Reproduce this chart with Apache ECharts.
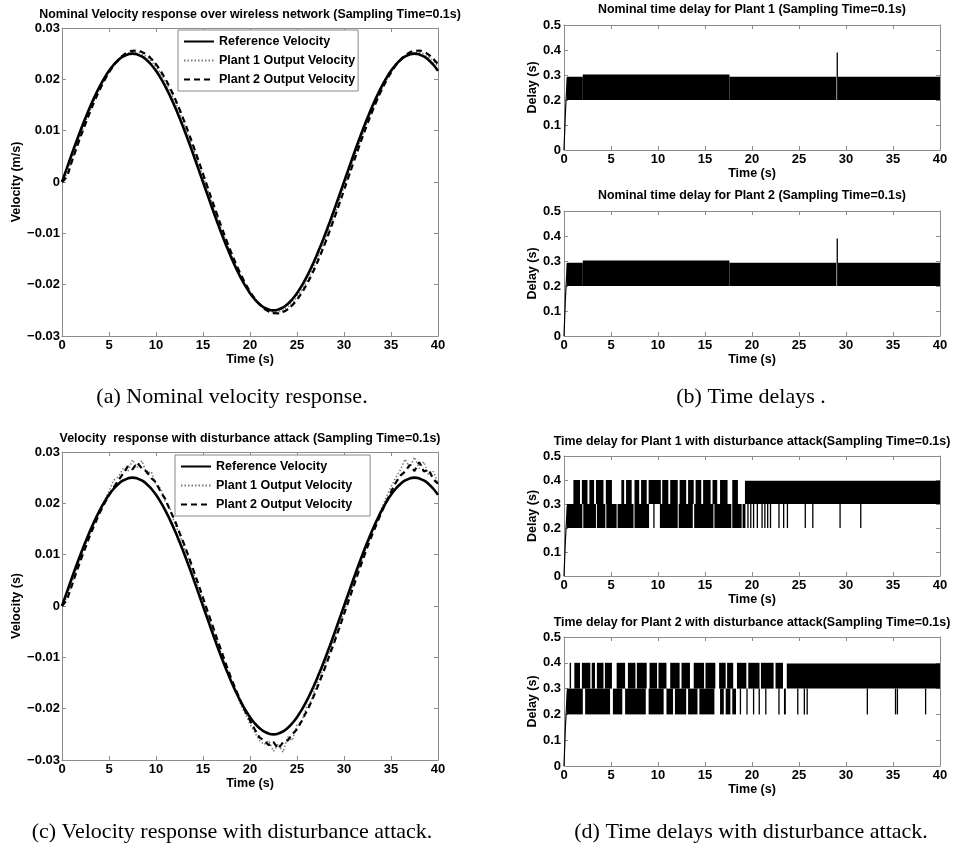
<!DOCTYPE html>
<html>
<head>
<meta charset="utf-8">
<script src="https://cdn.jsdelivr.net/npm/echarts@6/dist/echarts.min.js"></script>
<style>
html,body{margin:0;padding:0;background:#fff;}
#chart{width:956px;height:844px;}
</style>
</head>
<body>
<div id="chart"></div>
<script>
// ---------- velocity data (time in s, velocity in m/s) ----------
const timeHalf = [0,0.5,1,1.5,2,2.5,3,3.5,4,4.5,5,5.5,6,6.5,7,7.5,8,8.5,9,9.5,10,10.5,11,11.5,12,12.5,13,13.5,14,14.5,15,15.5,16,16.5,17,17.5,18,18.5,19,19.5,20,20.5,21,21.5,22,22.5,23,23.5,24,24.5,25,25.5,26,26.5,27,27.5,28,28.5,29,29.5,30,30.5,31,31.5,32,32.5,33,33.5,34,34.5,35,35.5,36,36.5,37,37.5,38,38.5,39,39.5,40];
const refVelocity = [0,0.00261,0.00520,0.00773,0.01017,0.0125,0.01469,0.01673,0.01858,0.02023,0.02165,0.02284,0.02378,0.02445,0.02486,0.025,0.02486,0.02445,0.02378,0.02284,0.02165,0.02023,0.01858,0.01673,0.01469,0.0125,0.01017,0.00773,0.00520,0.00261,0,
  -0.00261,-0.00520,-0.00773,-0.01017,-0.0125,-0.01469,-0.01673,-0.01858,-0.02023,-0.02165,-0.02284,-0.02378,-0.02445,-0.02486,-0.025,-0.02486,-0.02445,-0.02378,-0.02284,-0.02165,-0.02023,-0.01858,-0.01673,-0.01469,-0.0125,-0.01017,-0.00773,-0.00520,-0.00261,0,
  0.00261,0.00520,0.00773,0.01017,0.0125,0.01469,0.01673,0.01858,0.02023,0.02165,0.02284,0.02378,0.02445,0.02486,0.025,0.02486,0.02445,0.02378,0.02284,0.02165];
const plant1Nominal = [0,0.00159,0.00422,0.00680,0.00931,0.01172,0.01400,0.01613,0.01808,0.01983,0.02136,0.02266,0.02371,0.02451,0.02503,0.02528,0.02525,0.02495,0.02437,0.02352,0.02242,0.02107,0.01949,0.01770,0.01571,0.01356,0.01125,0.00882,0.00629,0.00370,0.00106,
  -0.00159,-0.00422,-0.00680,-0.00931,-0.01172,-0.01400,-0.01613,-0.01808,-0.01983,-0.02136,-0.02266,-0.02371,-0.02451,-0.02503,-0.02528,-0.02525,-0.02495,-0.02437,-0.02352,-0.02242,-0.02107,-0.01949,-0.01770,-0.01571,-0.01356,-0.01125,-0.00882,-0.00629,-0.00370,-0.00106,
  0.00159,0.00422,0.00680,0.00931,0.01172,0.01400,0.01613,0.01808,0.01983,0.02136,0.02266,0.02371,0.02451,0.02503,0.02528,0.02525,0.02495,0.02437,0.02352,0.02242];
const plant2Nominal = [0,0.00107,0.00374,0.00637,0.00892,0.01138,0.01372,0.01590,0.01791,0.01972,0.02132,0.02269,0.02380,0.02466,0.02524,0.02555,0.02558,0.02533,0.02480,0.02399,0.02293,0.02161,0.02006,0.01829,0.01632,0.01417,0.01186,0.00942,0.00688,0.00427,0.00161,
  -0.00107,-0.00374,-0.00637,-0.00892,-0.01138,-0.01372,-0.01590,-0.01791,-0.01972,-0.02132,-0.02269,-0.02380,-0.02466,-0.02524,-0.02555,-0.02558,-0.02533,-0.02480,-0.02399,-0.02293,-0.02161,-0.02006,-0.01829,-0.01632,-0.01417,-0.01186,-0.00942,-0.00688,-0.00427,-0.00161,
  0.00107,0.00374,0.00637,0.00892,0.01138,0.01372,0.01590,0.01791,0.01972,0.02132,0.02269,0.02380,0.02466,0.02524,0.02555,0.02558,0.02533,0.02480,0.02399,0.02293];
const plant1Attack = [0,0.0016,0.0042,0.0069,0.0094,0.0119,0.0142,0.0165,0.0186,0.0205,0.0224,0.0245,0.0252,0.0268,0.0262,0.0285,0.0270,0.0283,0.0258,0.0262,0.0236,0.0229,0.0203,0.0190,0.0160,0.0140,0.0113,0.0090,0.0063,0.0037,0.0011,-0.0016,-0.0042,-0.0069,-0.0096,-0.0122,-0.0148,-0.0166,-0.0192,-0.0210,-0.0230,-0.0246,-0.0262,-0.0270,-0.0262,-0.0283,-0.0268,-0.0285,-0.0255,-0.0262,-0.0232,-0.0225,-0.0198,-0.0185,-0.0157,-0.0137,-0.0113,-0.0088,-0.0063,-0.0037,-0.0011,0.0016,0.0042,0.0069,0.0094,0.0120,0.0145,0.0168,0.0190,0.0212,0.0232,0.0250,0.0265,0.0286,0.0270,0.0290,0.0268,0.0281,0.0255,0.0262,0.0240];
const plant2Attack = [0,0.0011,0.0037,0.0064,0.0090,0.0114,0.0139,0.0160,0.0181,0.0199,0.0216,0.0231,0.0245,0.0258,0.0272,0.0266,0.0279,0.0268,0.0262,0.0249,0.0241,0.0222,0.0208,0.0186,0.0167,0.0143,0.0120,0.0095,0.0069,0.0043,0.0016,-0.0011,-0.0037,-0.0064,-0.0090,-0.0116,-0.0141,-0.0163,-0.0185,-0.0205,-0.0223,-0.0240,-0.0256,-0.0262,-0.0271,-0.0265,-0.0278,-0.0266,-0.0262,-0.0250,-0.0240,-0.0224,-0.0206,-0.0188,-0.0166,-0.0143,-0.0119,-0.0094,-0.0069,-0.0043,-0.0016,0.0011,0.0037,0.0064,0.0090,0.0115,0.0139,0.0161,0.0183,0.0203,0.0222,0.0240,0.0254,0.0262,0.0275,0.0263,0.0280,0.0262,0.0266,0.0247,0.0238];

// ---------- delay data: [tStart, tEnd, lowDelay, highDelay] (signal toggles between low/high) ----------
const rampDelay = [[0,0],[0.15,0.15],[0.35,0.29]];
const nominalDelayPlant1 = [[0.3,2.0,0.2,0.293],[2.0,17.6,0.2,0.302],[17.6,28.95,0.2,0.293],[29.15,40,0.2,0.293],[29.0,29.0,0.2,0.39]];
const nominalDelayPlant2 = [[0.3,2.0,0.2,0.293],[2.0,17.6,0.2,0.302],[17.6,28.95,0.2,0.293],[29.15,40,0.2,0.293],[29.0,29.0,0.2,0.39]];
const attackDelayPlant1 = [
  [1.0,1.7,0.3,0.4],[1.9,2.5,0.3,0.4],[2.7,3.2,0.3,0.4],[3.4,4.2,0.3,0.4],[4.45,5.1,0.3,0.4],[6.1,6.4,0.3,0.4],[6.6,7.2,0.3,0.4],[7.5,8.0,0.3,0.4],[8.2,8.8,0.3,0.4],[9.0,10.3,0.3,0.4],[10.45,11.1,0.3,0.4],[11.3,12.1,0.3,0.4],[12.3,13.0,0.3,0.4],[13.2,13.8,0.3,0.4],[14.0,14.6,0.3,0.4],[14.8,15.6,0.3,0.4],[15.8,16.3,0.3,0.4],[16.6,17.4,0.3,0.4],[17.9,18.5,0.3,0.4],[19.25,40,0.3,0.397],
  [0.3,1.95,0.2,0.3],[2.05,3.4,0.2,0.3],[3.5,4.4,0.2,0.3],[4.5,5.6,0.2,0.3],[5.7,7.4,0.2,0.3],[7.5,9.05,0.2,0.3],[9.5,9.5,0.2,0.3],[10.2,12.1,0.2,0.3],[12.2,13.7,0.2,0.3],[13.85,15.9,0.2,0.3],[16.0,17.8,0.2,0.3],[17.9,18.9,0.2,0.3],[19.0,19.3,0.2,0.3],
  [19.5,19.5,0.2,0.3],[19.8,19.8,0.2,0.3],[20.1,20.1,0.2,0.3],[20.5,20.5,0.2,0.3],[21.0,21.0,0.2,0.3],[21.3,21.3,0.2,0.3],[21.6,21.6,0.2,0.3],[21.9,21.9,0.2,0.3],[22.8,22.8,0.2,0.3],[23.3,23.3,0.2,0.3],[23.7,23.7,0.2,0.3],[25.6,25.6,0.2,0.3],[26.4,26.4,0.2,0.3],[29.3,29.3,0.2,0.3],[31.5,31.5,0.2,0.3]
];
const attackDelayPlant2 = [
  [0.6,0.75,0.3,0.4],[1.1,1.7,0.3,0.4],[1.9,2.8,0.3,0.4],[2.95,3.3,0.3,0.4],[3.5,4.2,0.3,0.4],[4.35,5.1,0.3,0.4],[5.6,6.5,0.3,0.4],[6.8,7.6,0.3,0.4],[7.75,8.8,0.3,0.4],[9.1,9.9,0.3,0.4],[10.05,10.9,0.3,0.4],[11.3,12.3,0.3,0.4],[12.5,13.4,0.3,0.4],[13.8,14.9,0.3,0.4],[15.05,16.1,0.3,0.4],[16.5,17.2,0.3,0.4],[17.35,18.0,0.3,0.4],[18.4,19.4,0.3,0.4],[19.6,20.8,0.3,0.4],[20.95,22.3,0.3,0.4],[22.5,23.3,0.3,0.4],[23.7,40,0.3,0.397],
  [0.3,2.0,0.2,0.3],[2.25,4.9,0.2,0.3],[5.2,6.2,0.2,0.3],[6.5,8.7,0.2,0.3],[9.0,10.6,0.2,0.3],[10.9,11.6,0.2,0.3],[11.8,13.0,0.2,0.3],[13.2,14.2,0.2,0.3],[14.4,16.0,0.2,0.3],[16.6,17.0,0.2,0.3],[17.2,17.7,0.2,0.3],[17.9,18.3,0.2,0.3],
  [18.7,18.7,0.2,0.3],[19.4,19.4,0.2,0.3],[20.1,20.1,0.2,0.3],[20.7,20.7,0.2,0.3],[21.4,21.4,0.2,0.3],[22.8,22.8,0.2,0.3],[23.4,23.6,0.2,0.3],[24.8,24.8,0.2,0.3],[25.5,25.5,0.2,0.3],[25.8,25.8,0.2,0.3],[32.2,32.2,0.2,0.3],[35.2,35.2,0.2,0.3],[35.4,35.4,0.2,0.3],[38.4,38.4,0.2,0.3]
];

const legendNames = ['Reference Velocity','Plant 1 Output Velocity','Plant 2 Output Velocity'];
const titles = [
  'Nominal Velocity response over wireless network (Sampling Time=0.1s)',
  'Nominal time delay for Plant 1 (Sampling Time=0.1s)',
  'Nominal time delay for Plant 2 (Sampling Time=0.1s)',
  'Velocity  response with disturbance attack (Sampling Time=0.1s)',
  'Time delay for Plant 1 with disturbance attack(Sampling Time=0.1s)',
  'Time delay for Plant 2 with disturbance attack(Sampling Time=0.1s)'
];
const captions = ['(a) Nominal velocity response.','(b) Time delays .','(c) Velocity response with disturbance attack.','(d) Time delays with disturbance attack.'];

// ---------- layout ----------
const FONT = '"Liberation Sans", Arial, sans-serif';
const SERIF = '"Liberation Serif", "Times New Roman", serif';
const axisGray = '#8c8c8c';
const grids = [
  {left:62, top:28, width:376, height:308},
  {left:564, top:25, width:376, height:125},
  {left:564, top:211, width:376, height:125},
  {left:62, top:452, width:376, height:308},
  {left:564, top:456, width:376, height:120},
  {left:564, top:637, width:376, height:129}
];
const yNames = ['Velocity (m/s)','Delay (s)','Delay (s)','Velocity (s)','Delay (s)','Delay (s)'];
const titleY = [15, 10, 196, 439, 442, 623];

function velFmt(v){ if (Math.abs(v) < 1e-9) return '0'; return (v < 0 ? '\u2212' : '') + Math.abs(v).toFixed(2); }
function delayFmt(v){ if (Math.abs(v) < 1e-9) return '0'; return v.toFixed(1); }

const xAxes = [], yAxes = [];
grids.forEach((g, gi) => {
  const isVel = (gi === 0 || gi === 3);
  const line = {show:true, onZero:false, lineStyle:{color:axisGray, width:1}};
  const tick = {show:true, inside:true, length:4, lineStyle:{color:axisGray}};
  const lbl = {color:'#000', fontWeight:'bold', fontSize:13, fontFamily:FONT};
  const nameStyle = {color:'#000', fontWeight:'bold', fontSize:12.5, fontFamily:FONT};
  xAxes.push({gridIndex:gi, type:'value', min:0, max:40, interval:5, position:'bottom',
    name:'Time (s)', nameLocation:'middle', nameGap:17, nameTextStyle:nameStyle,
    axisLine:line, axisTick:tick, axisLabel:Object.assign({margin:3}, lbl), splitLine:{show:false}});
  xAxes.push({gridIndex:gi, type:'value', min:0, max:40, interval:5, position:'top',
    axisLine:line, axisTick:tick, axisLabel:{show:false}, splitLine:{show:false}});
  yAxes.push({gridIndex:gi, type:'value', position:'left',
    min: isVel ? -0.03 : 0, max: isVel ? 0.03 : 0.5, interval: isVel ? 0.01 : 0.1,
    name:yNames[gi], nameLocation:'middle', nameGap: isVel ? 38 : 24, nameRotate:90, nameTextStyle:nameStyle,
    axisLine:line, axisTick:tick,
    axisLabel:Object.assign({margin: isVel ? 2 : 3, formatter: isVel ? velFmt : delayFmt}, lbl),
    splitLine:{show:false}});
  yAxes.push({gridIndex:gi, type:'value', position:'right',
    min: isVel ? -0.03 : 0, max: isVel ? 0.03 : 0.5, interval: isVel ? 0.01 : 0.1,
    axisLine:line, axisTick:tick, axisLabel:{show:false}, splitLine:{show:false}});
});

function zip(xs, ys){ return xs.map((x, i) => [x, ys[i]]); }

function renderBand(params, api){
  const p0 = api.coord([api.value(0), api.value(3)]);
  const p1 = api.coord([api.value(1), api.value(2)]);
  const w = Math.max(1.3, p1[0] - p0[0]);
  return {type:'rect', shape:{x:p0[0], y:p0[1], width:w, height:p1[1] - p0[1]}, style:{fill:'#000'}};
}

function velSeries(gi, p1, p2, smoothPlants){
  const ax = {xAxisIndex:2*gi, yAxisIndex:2*gi};
  return [
    Object.assign({name:legendNames[0], type:'line', data:zip(timeHalf, refVelocity), smooth:true, symbol:'none',
      lineStyle:{color:'#000', width:2.6, type:'solid'}, itemStyle:{color:'#000'}, z:4}, ax),
    Object.assign({name:legendNames[1], type:'line', data:zip(timeHalf, p1), smooth:smoothPlants, symbol:'none',
      lineStyle:{color:'#7a7a7a', width:1.5, type:[1.5,2]}, itemStyle:{color:'#7a7a7a'}, z:3}, ax),
    Object.assign({name:legendNames[2], type:'line', data:zip(timeHalf, p2), smooth:smoothPlants, symbol:'none',
      lineStyle:{color:'#000', width:2.2, type:[6,4]}, itemStyle:{color:'#000'}, z:3}, ax)
  ];
}
function delaySeries(gi, bands){
  const ax = {xAxisIndex:2*gi, yAxisIndex:2*gi};
  return [
    Object.assign({type:'custom', data:bands, encode:{x:[0,1], y:[2,3]}, renderItem:renderBand, silent:true, clip:true}, ax),
    Object.assign({type:'line', data:rampDelay, symbol:'none', silent:true, lineStyle:{color:'#000', width:1.2}}, ax)
  ];
}

const series = [].concat(
  velSeries(0, plant1Nominal, plant2Nominal, true),
  delaySeries(1, nominalDelayPlant1),
  delaySeries(2, nominalDelayPlant2),
  velSeries(3, plant1Attack, plant2Attack, false),
  delaySeries(4, attackDelayPlant1),
  delaySeries(5, attackDelayPlant2)
);

function legendAt(left, top, padRight){
  return {left:left, top:top, orient:'vertical', data:legendNames, selectedMode:false,
    backgroundColor:'#fff', borderColor:'#888', borderWidth:1, padding:[5,padRight,5,5], itemGap:6,
    itemWidth:30, itemHeight:13, itemStyle:{opacity:0},
    textStyle:{color:'#000', fontWeight:'bold', fontSize:12.5, fontFamily:FONT}};
}

const graphics = [];
grids.forEach((g, gi) => {
  graphics.push({type:'text', x:g.left + g.width/2, y:titleY[gi], silent:true,
    style:{text:titles[gi], align:'center', verticalAlign:'middle', fill:'#000', font:'bold 12.4px ' + FONT}});
});
const capPos = [[232,397],[751,397],[232,832],[751,832]];
captions.forEach((c, i) => {
  graphics.push({type:'text', x:capPos[i][0], y:capPos[i][1], silent:true,
    style:{text:c, align:'center', verticalAlign:'middle', fill:'#000', font:'22px ' + SERIF}});
});

const chart = echarts.init(document.getElementById('chart'), null, {renderer:'canvas'});
chart.setOption({
  animation:false,
  backgroundColor:'#fff',
  textStyle:{fontFamily:FONT},
  grid:grids,
  xAxis:xAxes,
  yAxis:yAxes,
  legend:[legendAt(178,30,3), legendAt(175,455,18)],
  graphic:graphics,
  series:series
});
</script>
</body>
</html>
